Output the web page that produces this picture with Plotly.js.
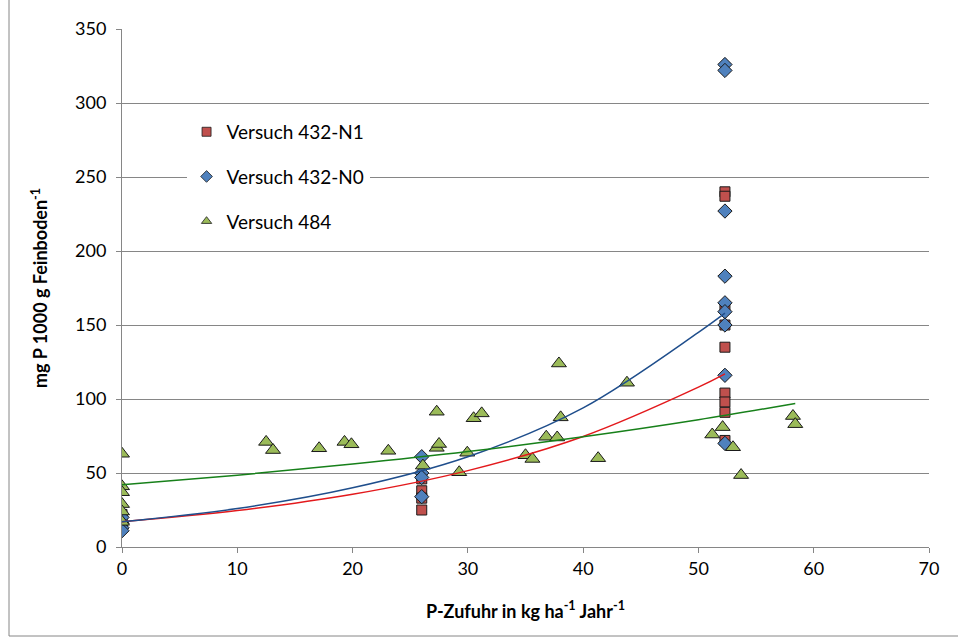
<!DOCTYPE html>
<html>
<head>
<meta charset="utf-8">
<script src="https://cdn.plot.ly/plotly-3.0.1.min.js"></script>
<style>html,body{margin:0;padding:0;background:#fff;}#chart{width:958px;height:643px;}</style>
</head>
<body>
<div id="chart"></div>
<script>
// Versuch 432-N1 (red squares)
const n1X = [0, 0, 0, 0, 26, 26, 26, 26, 52.3, 52.3, 52.3, 52.3, 52.3, 52.3, 52.3, 52.3, 52.3];
const n1Y = [22, 18, 15, 13, 46, 38, 33, 25, 240, 237, 162, 150, 135, 104, 98, 91, 72];
// Versuch 432-N0 (blue diamonds)
const n0X = [0, 0, 0, 0, 26, 26, 26, 26, 52.3, 52.3, 52.3, 52.3, 52.3, 52.3, 52.3, 52.3, 52.3];
const n0Y = [20, 16, 13, 11, 61, 50, 47, 34, 326, 322, 227, 183, 165, 159, 150, 116, 70];
// Versuch 484 (green triangles)
const v484X = [0, 0, 0, 0, 0, 0, 12.5, 13.1, 17.1, 19.3, 19.9, 23.1, 26.1, 27.3, 27.3, 27.5, 29.25, 29.95, 30.5, 31.2, 35.0, 35.6, 36.8, 37.75, 37.9, 38.05, 41.3, 43.8, 51.2, 52.1, 53.0, 53.7, 58.2, 58.4];
const v484Y = [63, 41, 37, 29, 24, 17, 71, 65.5, 66.7, 71, 69.4, 65, 55, 91.4, 67, 69.6, 50.5, 63.7, 87, 90.3, 62, 59.5, 74.5, 74, 124, 87.6, 60, 111, 76, 81, 67.4, 48.6, 88.5, 83];
// Trend lines
const trendN0X = [0, 10, 20, 30, 40, 50, 52.3];
const trendN0Y = [17, 26, 40, 61, 94, 145, 158];
const trendN1X = [0, 10, 20, 30, 40, 50, 52.3];
const trendN1Y = [17, 24.6, 35.6, 51.6, 74.7, 108, 117];
const trend484X = [0, 10, 20, 30, 40, 50, 58.4];
const trend484Y = [42, 48.5, 56, 64.5, 74.5, 86, 97];

const names = ['Versuch 432-N1', 'Versuch 432-N0', 'Versuch 484'];
const colors = ['#C0504D', '#4F81BD', '#9BBB59'];
const symbols = ['square', 'diamond', 'triangle-up'];
const outline = {color: '#1a1a1a', width: 1};

const traces = [
  {x: n1X, y: n1Y, name: names[0], type: 'scatter', mode: 'markers', showlegend: false,
   marker: {symbol: symbols[0], size: 10, color: colors[0], line: outline}},
  {x: n0X, y: n0Y, name: names[1], type: 'scatter', mode: 'markers', showlegend: false,
   marker: {symbol: symbols[1], size: 11, color: colors[1], line: outline}},
  {x: v484X, y: v484Y, name: names[2], type: 'scatter', mode: 'markers', showlegend: false,
   marker: {symbol: symbols[2], size: 13, color: colors[2], line: outline}},
  {x: trendN1X, y: trendN1Y, type: 'scatter', mode: 'lines', showlegend: false, hoverinfo: 'skip',
   line: {color: '#E3191C', width: 1.5, shape: 'spline'}},
  {x: trendN0X, y: trendN0Y, type: 'scatter', mode: 'lines', showlegend: false, hoverinfo: 'skip',
   line: {color: '#1F4E8C', width: 1.5, shape: 'spline'}},
  {x: trend484X, y: trend484Y, type: 'scatter', mode: 'lines', showlegend: false, hoverinfo: 'skip',
   line: {color: '#17801A', width: 1.5, shape: 'spline'}}
];
// legend-only entries with smaller symbols
for (let i = 0; i < 3; i++) {
  traces.push({x: [null], y: [null], name: names[i], type: 'scatter', mode: 'markers',
    legendgroup: 'g' + i, showlegend: true,
    marker: {symbol: symbols[i], size: 9, color: colors[i], line: {color: '#1a1a1a', width: 0.8}}});
}

const font = 'Lato, "Open Sans", "Liberation Sans", sans-serif';
const layout = {
  width: 958, height: 643,
  margin: {l: 122, r: 29, t: 29, b: 96},
  paper_bgcolor: '#fff', plot_bgcolor: '#fff',
  font: {family: font, size: 18, color: '#000'},
  showlegend: true,
  legend: {x: 0.08, y: 0.838, xanchor: 'left', yanchor: 'top', bgcolor: '#fff',
           font: {family: font, size: 19, color: '#000'}, tracegroupgap: 17,
           itemwidth: 30, traceorder: 'grouped'},
  xaxis: {range: [0, 70], dtick: 10, showgrid: false, zeroline: false,
          showline: true, linecolor: '#868686', linewidth: 1,
          ticks: 'outside', ticklen: 5, tickcolor: '#868686',
          tickfont: {size: 18}, fixedrange: true,
          title: {text: '<b>P-Zufuhr in kg ha<sup>-1</sup> Jahr<sup>-1</sup></b>', font: {size: 18}, standoff: 27}},
  yaxis: {range: [0, 350], dtick: 50, showgrid: true, gridcolor: '#868686', gridwidth: 1, zeroline: false,
          showline: true, linecolor: '#868686', linewidth: 1,
          ticks: 'outside', ticklen: 5, tickcolor: '#868686', ticklabelstandoff: 6,
          tickfont: {size: 18}, fixedrange: true,
          title: {text: '<b>mg P 1000 g Feinboden<sup>-1</sup></b>', font: {size: 18}, standoff: 22}},
  shapes: [
    {type: 'rect', xref: 'paper', yref: 'paper',
     x0: (9 - 122) / 807, x1: 1.2, y0: (547 - 636) / 518, y1: 1.2,
     line: {color: '#868686', width: 1}, fillcolor: 'rgba(0,0,0,0)'}
  ]
};

Plotly.newPlot('chart', traces, layout, {displayModeBar: false, staticPlot: true});
</script>
</body>
</html>
